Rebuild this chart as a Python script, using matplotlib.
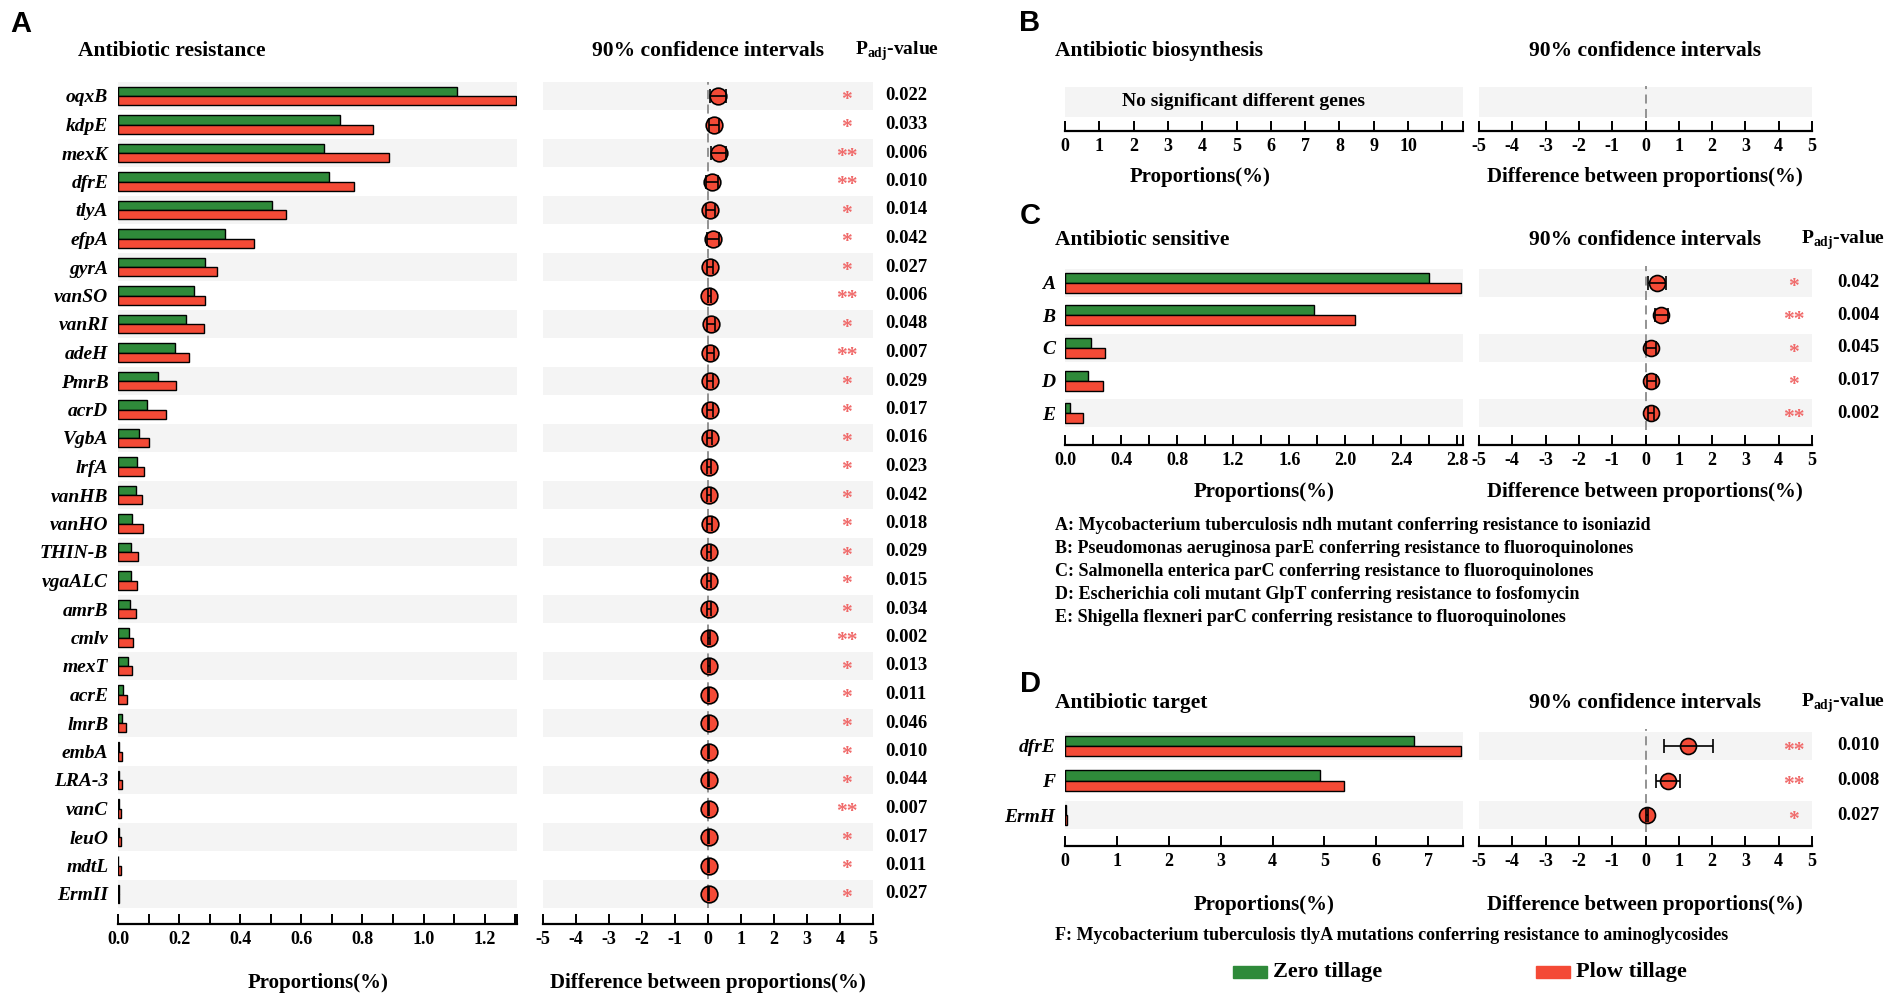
import numpy as np
import matplotlib
matplotlib.use('Agg')
from matplotlib import pyplot as plt
from matplotlib.patches import Rectangle

plt.rcParams['font.family'] = 'Liberation Serif'
plt.rcParams['font.weight'] = 'bold'
plt.rcParams['mathtext.fontset'] = 'custom'
plt.rcParams['mathtext.rm'] = 'Liberation Serif:bold'
plt.rcParams['axes.unicode_minus'] = False

GREEN = '#2f8a3a'
RED = '#f44a36'
BAND = '#f4f4f4'
STAR = '#f06a6a'

# ---- data ----
genes_A = ['oqxB', 'kdpE', 'mexK', 'dfrE', 'tlyA', 'efpA', 'gyrA', 'vanSO', 'vanRI',
           'adeH', 'PmrB', 'acrD', 'VgbA', 'lrfA', 'vanHB', 'vanHO', 'THIN-B', 'vgaALC',
           'amrB', 'cmlv', 'mexT', 'acrE', 'lmrB', 'embA', 'LRA-3', 'vanC', 'leuO',
           'mdtL', 'ErmII']
zero_A = [1.11, 0.728, 0.675, 0.690, 0.504, 0.351, 0.284, 0.250, 0.221, 0.185, 0.132,
          0.096, 0.070, 0.061, 0.058, 0.045, 0.043, 0.042, 0.039, 0.035, 0.032, 0.015,
          0.012, 0.004, 0.004, 0.003, 0.002, 0.001, 0.002]
plow_A = [1.304, 0.834, 0.886, 0.774, 0.550, 0.444, 0.325, 0.285, 0.281, 0.233, 0.189,
          0.156, 0.102, 0.084, 0.080, 0.081, 0.066, 0.061, 0.058, 0.049, 0.045, 0.028,
          0.025, 0.012, 0.013, 0.011, 0.010, 0.010, 0.004]
diff_A = [0.30, 0.17, 0.34, 0.12, 0.07, 0.15, 0.05, 0.04, 0.09, 0.07, 0.06, 0.07, 0.05,
          0.04, 0.04, 0.05, 0.04, 0.03, 0.03, 0.02, 0.03, 0.02, 0.02, 0.02, 0.02, 0.02,
          0.02, 0.02, 0.02]
lo_A = [0.07, 0.02, 0.10, -0.06, -0.05, -0.03, -0.03, 0.00, -0.03, -0.03, -0.03, -0.02,
        -0.02, -0.02, -0.02, -0.02, -0.02, -0.02, -0.02, -0.01, -0.01, 0.00, 0.00, 0.01,
        0.01, 0.01, 0.01, 0.01, 0.01]
hi_A = [0.56, 0.32, 0.56, 0.29, 0.20, 0.33, 0.14, 0.09, 0.22, 0.17, 0.15, 0.16, 0.12,
        0.10, 0.10, 0.12, 0.10, 0.08, 0.08, 0.05, 0.07, 0.04, 0.04, 0.03, 0.03, 0.03,
        0.03, 0.03, 0.03]
p_A = ['0.022', '0.033', '0.006', '0.010', '0.014', '0.042', '0.027', '0.006', '0.048',
       '0.007', '0.029', '0.017', '0.016', '0.023', '0.042', '0.018', '0.029', '0.015',
       '0.034', '0.002', '0.013', '0.011', '0.046', '0.010', '0.044', '0.007', '0.017',
       '0.011', '0.027']
star_A = ['*', '*', '**', '**', '*', '*', '*', '**', '*', '**', '*', '*', '*', '*', '*',
          '*', '*', '*', '*', '**', '*', '*', '*', '*', '*', '**', '*', '*', '*']

labels_C = ['A', 'B', 'C', 'D', 'E']
zero_C = [2.594, 1.777, 0.186, 0.167, 0.034]
plow_C = [2.823, 2.068, 0.282, 0.272, 0.130]
diff_C = [0.34, 0.47, 0.16, 0.18, 0.17]
lo_C = [0.07, 0.28, 0.01, 0.04, 0.07]
hi_C = [0.62, 0.68, 0.33, 0.32, 0.27]
p_C = ['0.042', '0.004', '0.045', '0.017', '0.002']
star_C = ['*', '**', '*', '*', '**']
notes_C = ['A: Mycobacterium tuberculosis ndh mutant conferring resistance to isoniazid',
           'B: Pseudomonas aeruginosa parE conferring resistance to fluoroquinolones',
           'C: Salmonella enterica parC conferring resistance to fluoroquinolones',
           'D: Escherichia coli mutant GlpT conferring resistance to fosfomycin',
           'E: Shigella flexneri parC conferring resistance to fluoroquinolones']

labels_D = ['dfrE', 'F', 'ErmH']
zero_D = [6.72, 4.91, 0.01]
plow_D = [7.63, 5.38, 0.03]
diff_D = [1.29, 0.68, 0.04]
lo_D = [0.55, 0.31, 0.00]
hi_D = [2.03, 1.05, 0.08]
p_D = ['0.010', '0.008', '0.027']
star_D = ['**', '**', '*']
note_D = 'F: Mycobacterium tuberculosis tlyA mutations conferring resistance to aminoglycosides'

W, H = 1901, 1000
fig = plt.figure(figsize=(W / 100, H / 100), dpi=100)


def rect(x0, x1, y0, y1):
    return [x0 / W, 1 - y1 / H, (x1 - x0) / W, (y1 - y0) / H]


def ftext(x, y, s, **kw):
    fig.text(x / W, 1 - y / H, s, **kw)


def style_axis(ax, off_px):
    for s in ['top', 'right', 'left']:
        ax.spines[s].set_visible(False)
    ax.spines['bottom'].set_position(('outward', off_px * 0.72))
    ax.spines['bottom'].set_linewidth(1.6)
    ax.tick_params(axis='x', direction='in', length=7, width=1.4, labelsize=13, pad=5)
    ax.tick_params(axis='y', length=0)


def bar_panel(r, labels, zero, plow, xmax, ticks, ticklabels, band_h, bar_h, off, lab_size=14):
    ax = fig.add_axes(r)
    n = len(labels)
    y = np.arange(n)
    for i in range(0, n, 2):
        ax.axhspan(i - band_h / 2, i + band_h / 2, color=BAND, lw=0, zorder=0)
    if zero is not None:
        ax.barh(y - bar_h / 2, zero, height=bar_h, color=GREEN, edgecolor='black', lw=1, zorder=2)
        ax.barh(y + bar_h / 2, plow, height=bar_h, color=RED, edgecolor='black', lw=1, zorder=2)
    ax.set_xlim(0, xmax)
    ax.set_ylim(n - 0.5, -0.5)
    ax.set_yticks(y)
    ax.set_yticklabels(labels, style='italic', fontsize=lab_size)
    ax.set_xticks(ticks)
    ax.set_xticklabels(ticklabels)
    style_axis(ax, off)
    ax.tick_params(axis='y', pad=7)
    return ax


def ci_panel(r, diff, lo, hi, band_h, off, pvals=None, stars=None, xs=4.3, xp=6.0, ms=12):
    ax = fig.add_axes(r)
    n = len(diff)
    y = np.arange(n)
    for i in range(0, n, 2):
        ax.axhspan(i - band_h / 2, i + band_h / 2, color=BAND, lw=0, zorder=0)
    ax.axvline(0, color='#8a8a8a', ls=(0, (5, 3)), lw=1.3, zorder=1)
    d = np.array(diff)
    ax.plot(d, y, 'o', ms=ms, mfc=RED, mec='black', mew=1.2, zorder=3)
    ax.errorbar(d, y, xerr=[d - np.array(lo), np.array(hi) - d], fmt='none',
                ecolor='black', elinewidth=1.2, capsize=5, capthick=1.2, zorder=4)
    ax.set_xlim(-5, 5)
    ax.set_ylim(n - 0.5, -0.5)
    ax.set_yticks([])
    ax.set_xticks(range(-5, 6))
    style_axis(ax, off)
    if pvals is not None:
        for i in range(n):
            ax.text(xs, i + 0.14, stars[i], color=STAR, fontsize=15.5, ha='center',
                    va='center', clip_on=False)
            ax.text(xp, i, pvals[i], fontsize=13.5, ha='center', va='center', clip_on=False)
    return ax


# ---- panel A ----
rA = (81.75, 908.25)
bar_panel(rect(118, 517, *rA), genes_A, zero_A, plow_A, 1.306,
          list(np.round(np.arange(0, 1.31, 0.1), 1)) + [1.306],
          ['0.0', '', '0.2', '', '0.4', '', '0.6', '', '0.8', '', '1.0', '', '1.2', '', ''],
          0.96, 0.33, 15.75)
ci_panel(rect(543, 873, *rA), diff_A, lo_A, hi_A, 0.96, 15.75, p_A, star_A, xs=4.2, xp=6.0)

ftext(21, 24, 'A', fontsize=21, family='Liberation Sans', weight='bold', ha='center', va='center')
ftext(78, 51, 'Antibiotic resistance', fontsize=15.5, va='center')
ftext(708, 51, '90% confidence intervals', fontsize=15.5, ha='center', va='center')
ftext(897, 51, r'P$_{\rm adj}$-value', fontsize=14, ha='center', va='center')
ftext(318, 983, 'Proportions(%)', fontsize=15, ha='center', va='center')
ftext(708, 983, 'Difference between proportions(%)', fontsize=15, ha='center', va='center')

# ---- panel B ----
axB = bar_panel(rect(1065, 1463, 86, 118), [''], None, None, 11.6,
                list(range(12)) + [11.6], [str(i) for i in range(11)] + ['', ''],
                0.94, 0.3, 13)
axB.text(5.2, 0, 'No significant different genes', fontsize=14, ha='center', va='center')
ci_panel(rect(1479, 1812, 86, 118), [np.nan], [np.nan], [np.nan], 0.94, 13)

ftext(1030, 23, 'B', fontsize=21, family='Liberation Sans', weight='bold', ha='center', va='center')
ftext(1055, 51, 'Antibiotic biosynthesis', fontsize=15.5, va='center')
ftext(1645, 51, '90% confidence intervals', fontsize=15.5, ha='center', va='center')
ftext(1200, 177, 'Proportions(%)', fontsize=15, ha='center', va='center')
ftext(1645, 177, 'Difference between proportions(%)', fontsize=15, ha='center', va='center')

# ---- panel C ----
rC = (266.4, 429.6)
bar_panel(rect(1065, 1463, *rC), labels_C, zero_C, plow_C, 2.84,
          list(np.round(np.arange(0, 2.81, 0.2), 1)) + [2.84],
          ['0.0', '', '0.4', '', '0.8', '', '1.2', '', '1.6', '', '2.0', '', '2.4', '', '2.8', ''],
          0.86, 0.31, 15.4)
ci_panel(rect(1479, 1812, *rC), diff_C, lo_C, hi_C, 0.86, 15.4, p_C, star_C, xs=4.45, xp=6.4, ms=11.5)

ftext(1030, 216, 'C', fontsize=21, family='Liberation Sans', weight='bold', ha='center', va='center')
ftext(1055, 240, 'Antibiotic sensitive', fontsize=15.5, va='center')
ftext(1645, 240, '90% confidence intervals', fontsize=15.5, ha='center', va='center')
ftext(1843, 240, r'P$_{\rm adj}$-value', fontsize=14, ha='center', va='center')
ftext(1264, 492, 'Proportions(%)', fontsize=15, ha='center', va='center')
ftext(1645, 492, 'Difference between proportions(%)', fontsize=15, ha='center', va='center')
for k, s in enumerate(notes_C):
    ftext(1055, 525 + 23.1 * k, s, fontsize=13, va='center')

# ---- panel D ----
rD = (728.75, 832.25)
bar_panel(rect(1065, 1463, *rD), labels_D, zero_D, plow_D, 7.67,
          list(range(8)) + [7.67], [str(i) for i in range(8)] + [''],
          0.81, 0.30, 13.75)
ci_panel(rect(1479, 1812, *rD), diff_D, lo_D, hi_D, 0.81, 13.75, p_D, star_D, xs=4.45, xp=6.4, ms=11.5)

ftext(1030, 684, 'D', fontsize=21, family='Liberation Sans', weight='bold', ha='center', va='center')
ftext(1055, 703, 'Antibiotic target', fontsize=15.5, va='center')
ftext(1645, 703, '90% confidence intervals', fontsize=15.5, ha='center', va='center')
ftext(1843, 703, r'P$_{\rm adj}$-value', fontsize=14, ha='center', va='center')
ftext(1264, 905, 'Proportions(%)', fontsize=15, ha='center', va='center')
ftext(1645, 905, 'Difference between proportions(%)', fontsize=15, ha='center', va='center')
ftext(1055, 935, note_D, fontsize=13, va='center')

# legend
fig.patches.append(Rectangle((1233 / W, 1 - 978 / H), 34 / W, 12 / H, color=GREEN,
                             transform=fig.transFigure, figure=fig))
ftext(1273, 972, 'Zero tillage', fontsize=16, va='center')
fig.patches.append(Rectangle((1536 / W, 1 - 978 / H), 34 / W, 12 / H, color=RED,
                             transform=fig.transFigure, figure=fig))
ftext(1576, 972, 'Plow tillage', fontsize=16, va='center')

fig.savefig('out.png', dpi=100)
